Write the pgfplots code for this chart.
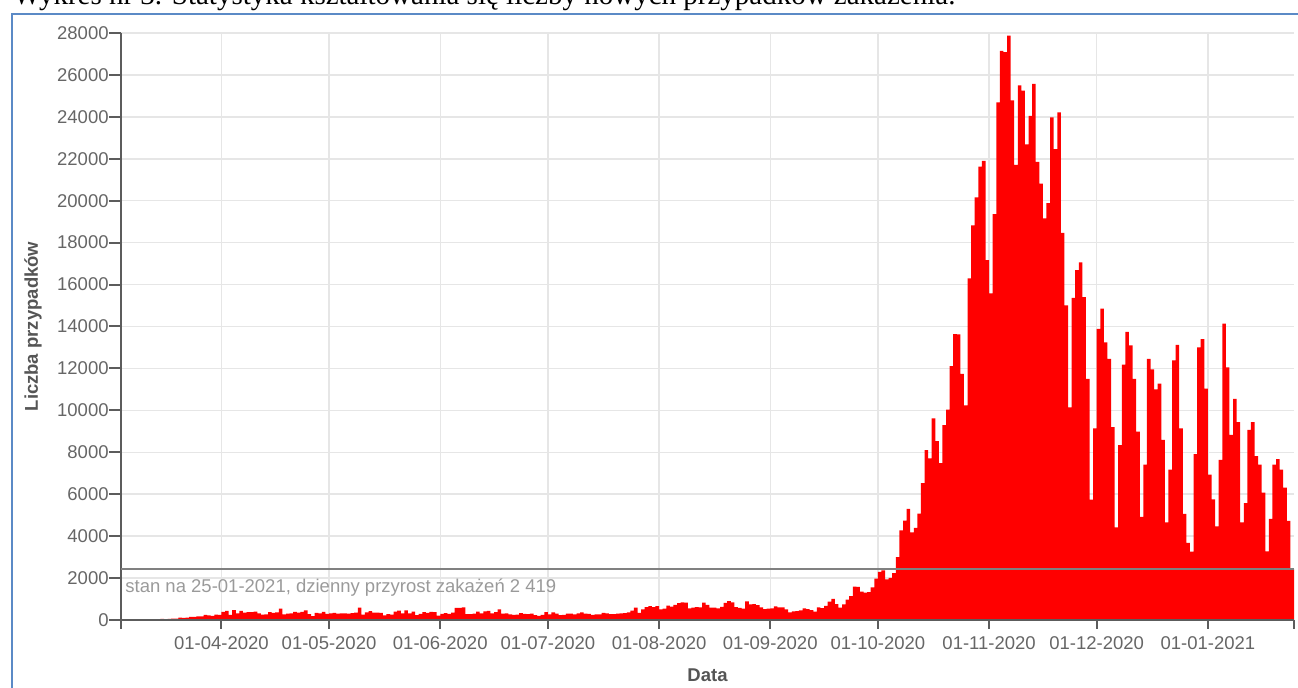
\documentclass[border=0pt]{standalone}
\usepackage{pgfplots}
\pgfplotsset{compat=1.18}
\usepackage{pgfplotstable}
\usepackage{fontspec}
\setmainfont{Liberation Sans}
\newfontfamily\captionserif{Liberation Serif}

\definecolor{barred}{HTML}{FF0000}
\definecolor{gridgray}{HTML}{E6E6E6}
\definecolor{axisgray}{HTML}{5C5C5C}
\definecolor{ticktext}{HTML}{666666}
\definecolor{labeltext}{HTML}{555555}
\definecolor{refline}{HTML}{808080}
\definecolor{reftext}{HTML}{9A9A9A}
\definecolor{frameblue}{HTML}{5B8AC6}

% daily new cases, one row per day from 05-03-2020 to 25-01-2021 (first row = start point)
\pgfplotstableread[row sep=\\, header=false]{
0\\
0\\ 4\\ 0\\ 6\\ 6\\ 5\\ 9\\ 20\\ 17\\ 36\\ 14\\ 52\\ 27\\ 49\\ 68\\ 70\\ 111\\ 98\\ 115\\ 152\\ 150\\ 170\\ 168\\ 249\\ 224\\ 193\\ 256\\
243\\ 392\\ 437\\ 244\\ 475\\ 311\\ 435\\ 357\\ 370\\ 380\\ 401\\ 318\\ 260\\ 268\\ 380\\ 336\\ 363\\ 545\\ 263\\ 306\\ 313\\ 381\\ 355\\ 381\\ 460\\ 285\\ 188\\ 344\\ 316\\ 381\\
295\\ 319\\ 345\\ 307\\ 313\\ 318\\ 307\\ 330\\ 347\\ 595\\ 251\\ 361\\ 425\\ 356\\ 349\\ 334\\ 217\\ 285\\ 252\\ 395\\ 443\\ 315\\ 459\\ 314\\ 395\\ 231\\ 292\\ 380\\ 344\\ 387\\ 379\\
205\\ 292\\ 333\\ 292\\ 351\\ 575\\ 576\\ 599\\ 282\\ 282\\ 308\\ 396\\ 314\\ 407\\ 440\\ 314\\ 371\\ 506\\ 301\\ 318\\ 268\\ 240\\ 258\\ 329\\ 296\\ 282\\ 300\\ 230\\ 193\\ 244\\
371\\ 262\\ 358\\ 299\\ 236\\ 243\\ 302\\ 299\\ 268\\ 320\\ 358\\ 299\\ 290\\ 239\\ 271\\ 271\\ 334\\ 319\\ 277\\ 282\\ 306\\ 315\\ 329\\ 358\\ 443\\ 584\\ 337\\ 512\\ 615\\ 657\\ 615\\
658\\ 512\\ 546\\ 680\\ 640\\ 726\\ 809\\ 843\\ 829\\ 548\\ 587\\ 619\\ 599\\ 832\\ 726\\ 594\\ 594\\ 548\\ 624\\ 811\\ 903\\ 840\\ 618\\ 579\\ 545\\ 887\\ 740\\ 753\\ 713\\ 601\\ 517\\
547\\ 555\\ 655\\ 605\\ 597\\ 501\\ 359\\ 412\\ 418\\ 454\\ 551\\ 520\\ 473\\ 404\\ 600\\ 571\\ 674\\ 876\\ 1002\\ 758\\ 591\\ 744\\ 975\\ 1136\\ 1587\\ 1584\\ 1350\\ 1306\\ 1326\\ 1552\\
1967\\ 2292\\ 2367\\ 1934\\ 2006\\ 2236\\ 3003\\ 4280\\ 4739\\ 5300\\ 4178\\ 4394\\ 5068\\ 6526\\ 8099\\ 7705\\ 9622\\ 8536\\ 7482\\ 9291\\ 10040\\ 12107\\ 13632\\ 13628\\ 11742\\ 10241\\ 16300\\ 18820\\ 20156\\ 21629\\ 21897\\
17171\\ 15578\\ 19364\\ 24692\\ 27143\\ 27086\\ 27875\\ 24785\\ 21713\\ 25500\\ 25250\\ 22683\\ 24051\\ 25571\\ 21854\\ 20816\\ 19152\\ 19883\\ 23975\\ 22464\\ 24213\\ 18467\\ 15002\\ 10139\\ 15362\\ 16687\\ 17057\\ 15400\\ 11500\\ 5741\\
9145\\ 13892\\ 14849\\ 13248\\ 12457\\ 9200\\ 4416\\ 8335\\ 12181\\ 13745\\ 13101\\ 11500\\ 8979\\ 4913\\ 7415\\ 12457\\ 11960\\ 11003\\ 11279\\ 8593\\ 4655\\ 7176\\ 12383\\ 13119\\ 9145\\ 5060\\ 3680\\ 3257\\ 7912\\ 13009\\ 13395\\
11040\\ 6937\\ 5759\\ 4471\\ 7636\\ 14131\\ 12052\\ 8832\\ 10543\\ 9439\\ 4655\\ 5575\\ 9071\\ 9439\\ 7820\\ 7415\\ 6072\\ 3275\\ 4821\\ 7415\\ 7673\\ 7176\\ 6311\\ 4729\\ 2419\\
}\dailycases

\begin{document}
\begin{tikzpicture}
\useasboundingbox (0pt,0pt) rectangle (649pt,344pt);
\node[anchor=base west, inner sep=0, font=\captionserif\fontsize{14.5}{17}\selectfont]
  at (6.5pt,341.5pt) {Wykres nr 3. Statystyka kształtowania się liczby nowych przypadków zakażenia.};
\draw[frameblue, line width=1pt] (6pt,-2pt) -- (6pt,337pt) -- (652pt,337pt);
\begin{axis}[
  at={(60.5pt,34pt)}, anchor=south west,
  scale only axis, width=586.5pt, height=293.5pt,
  xmin=0, xmax=327, ymin=0, ymax=28000,
  axis x line*=bottom, axis y line*=left,
  axis line style={-, axisgray, line width=1.25pt},
  tick align=outside,
  major tick length=4.5pt,
  ytick style={/pgfplots/major tick length=6pt},
  tick style={axisgray, line width=1pt},
  xtick={28,58,89,119,150,181,211,242,272,303},
  xticklabels={01-04-2020,01-05-2020,01-06-2020,01-07-2020,01-08-2020,01-09-2020,01-10-2020,01-11-2020,01-12-2020,01-01-2021},
  extra x ticks={0,327}, extra x tick labels={},
  extra x tick style={grid=none},
  ytick={0,2000,...,28000},
  scaled y ticks=false,
  /pgf/number format/1000 sep={},
  /pgf/number format/assume math mode=true,
  grid=major, grid style={gridgray, line width=0.75pt},
  tick label style={font=\fontsize{9.25}{11}\selectfont, text=ticktext, inner sep=0pt},
  xticklabel style={anchor=base, yshift=-10.25pt},
  yticklabel style={anchor=east, xshift=-1.5pt},
  xlabel={Data}, ylabel={Liczba przypadków},
  every axis x label/.style={at={([yshift=-27.5pt]axis description cs:0.5,0)}, anchor=center,
    font=\bfseries\fontsize{9.25}{11}\selectfont, text=labeltext},
  every axis y label/.style={at={([xshift=-44pt]axis description cs:0,0.5)}, rotate=90, anchor=center,
    font=\bfseries\fontsize{9.25}{11}\selectfont, text=labeltext},
  clip=false,
]
\addplot[fill=barred, draw=none, const plot mark right] table[x expr=\coordindex, y index=0] {\dailycases} \closedcycle;
\addplot[refline, line width=1pt] coordinates {(0,2419) (327,2419)};
\node[anchor=base west, inner sep=0, text=reftext, font=\fontsize{9.25}{11}\selectfont, xshift=2pt, yshift=-11.5pt]
  at (axis cs:0,2419) {stan na 25-01-2021, dzienny przyrost zakażeń 2 419};
\draw[axisgray, line width=1.25pt] (rel axis cs:0,0) -- (rel axis cs:1,0);
\end{axis}
\end{tikzpicture}
\end{document}
